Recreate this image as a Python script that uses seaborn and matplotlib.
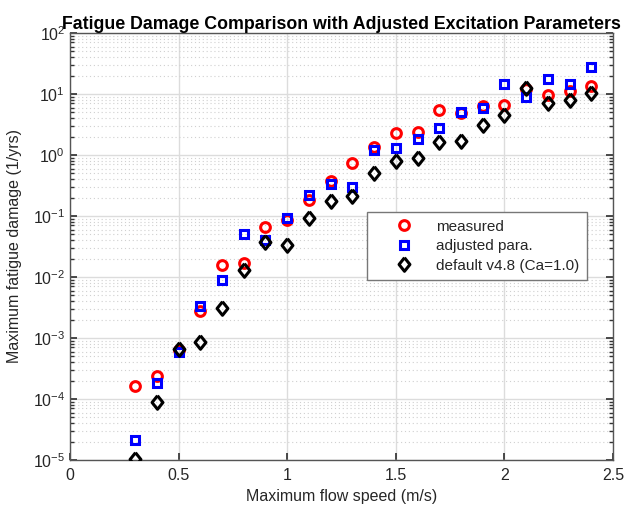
import numpy as np
import pandas as pd
import matplotlib
matplotlib.use("Agg")
import matplotlib.pyplot as plt
import matplotlib.ticker as mticker
import seaborn as sns

speed = [0.3, 0.4, 0.5, 0.6, 0.7, 0.8, 0.9, 1.0, 1.1, 1.2, 1.3,
         1.4, 1.5, 1.6, 1.7, 1.8, 1.9, 2.0, 2.1, 2.2, 2.3, 2.4]
measured = [1.63e-4, 2.4e-4, 6.4e-4, 2.8e-3, 1.6e-2, 1.7e-2, 6.5e-2, 8.6e-2,
            0.183, 0.38, 0.75, 1.37, 2.3, 2.4, 5.5, 4.9, 6.3, 6.6,
            12.0, 9.5, 11.2, 13.5]
adjusted = [2.1e-5, 1.85e-4, 6.0e-4, 3.3e-3, 8.9e-3, 5.1e-2, 4.0e-2, 9.1e-2,
            0.22, 0.34, 0.30, 1.2, 1.29, 1.83, 2.8, 5.0, 5.9, 14.6,
            9.0, 17.4, 14.4, 28.0]
default = [1.02e-5, 8.9e-5, 6.5e-4, 8.5e-4, 3.1e-3, 1.3e-2, 3.8e-2, 3.3e-2,
           0.091, 0.176, 0.215, 0.51, 0.81, 0.89, 1.65, 1.71, 3.1, 4.6,
           12.6, 7.2, 8.0, 10.5]
series_names = ["measured", "adjusted para.", "default v4.8 (Ca=1.0)"]
ytick_vals = [1e-5, 1e-4, 1e-3, 1e-2, 1e-1, 1e0, 1e1, 1e2]
ytick_labels = [r"$10^{-5}$", r"$10^{-4}$", r"$10^{-3}$", r"$10^{-2}$",
                r"$10^{-1}$", r"$10^{0}$", r"$10^{1}$", r"$10^{2}$"]
xtick_vals = [0, 0.5, 1, 1.5, 2, 2.5]
xtick_labels = ["0", "0.5", "1", "1.5", "2", "2.5"]

sns.set_theme(style="white")
plt.rcParams["font.family"] = ["Liberation Sans", "DejaVu Sans"]
plt.rcParams["mathtext.fontset"] = "custom"
plt.rcParams["mathtext.rm"] = "Liberation Sans"
plt.rcParams["mathtext.it"] = "Liberation Sans"
plt.rcParams["mathtext.default"] = "regular"

fig = plt.figure(figsize=(6.36, 5.12), dpi=100)
ax = fig.add_axes([0.110, 0.1016, 0.854, 0.834])

diamond = [(0, 1), (0.8, 0), (0, -1), (-0.8, 0), (0, 1)]
styles = [
    dict(marker="o", color="#ff0000", ms=7.0, mew=2.2),
    dict(marker="s", color="#0000ff", ms=5.8, mew=2.2),
    dict(marker=diamond, color="#000000", ms=9.8, mew=2.2),
]
for name, vals, st in zip(series_names, [measured, adjusted, default], styles):
    df = pd.DataFrame({"speed": speed, "damage": vals})
    sns.lineplot(data=df, x="speed", y="damage", ax=ax, linestyle="",
                 marker=st["marker"], markerfacecolor="none",
                 markeredgecolor=st["color"], markeredgewidth=st["mew"],
                 markersize=st["ms"], color=st["color"], label=name, zorder=3)

ax.set_yscale("log")
ax.set_xlim(0, 2.5)
ax.set_ylim(1e-5, 1e2)
ax.set_xticks(xtick_vals)
ax.set_xticklabels(xtick_labels)
ax.set_yticks(ytick_vals)
ax.set_yticklabels(ytick_labels)
ax.yaxis.set_minor_locator(mticker.LogLocator(base=10, subs=np.arange(2, 10), numticks=20))
ax.yaxis.set_minor_formatter(mticker.NullFormatter())
ax.xaxis.set_minor_locator(mticker.NullLocator())

ax.grid(True, which="major", color="#dcdcdc", linewidth=1.0, linestyle="-")
ax.grid(True, which="minor", axis="y", color="#d0d0d0", linewidth=0.8, linestyle=(0, (1, 2.5)))
ax.set_axisbelow(True)

for s in ax.spines.values():
    s.set_color("#555555")
    s.set_linewidth(1.0)
ax.tick_params(axis="both", which="both", direction="in", colors="#333333",
               labelcolor="#262626", labelsize=11.5, top=False, right=True,
               left=True, bottom=True)
ax.tick_params(which="major", length=5)
ax.tick_params(which="minor", length=3)
ax.tick_params(axis="x", pad=6)

ax.set_xlabel("Maximum flow speed (m/s)", fontsize=11.5, color="#262626", labelpad=4)
ax.set_ylabel("Maximum fatigue damage (1/yrs)", fontsize=11.5, color="#262626", labelpad=8)
ax.set_title("Fatigue Damage Comparison with Adjusted Excitation Parameters",
             fontsize=12.8, fontweight="bold", color="black", pad=2.5)

leg = ax.legend(loc="upper left", bbox_to_anchor=(0.547, 0.581), frameon=True,
                fancybox=False, framealpha=1, edgecolor="#777777",
                fontsize=11, handletextpad=0.2, borderpad=0.5,
                labelspacing=0.36, handlelength=3.8, borderaxespad=0)
leg.get_frame().set_linewidth(1.0)

fig.savefig("out.png", dpi=100)
